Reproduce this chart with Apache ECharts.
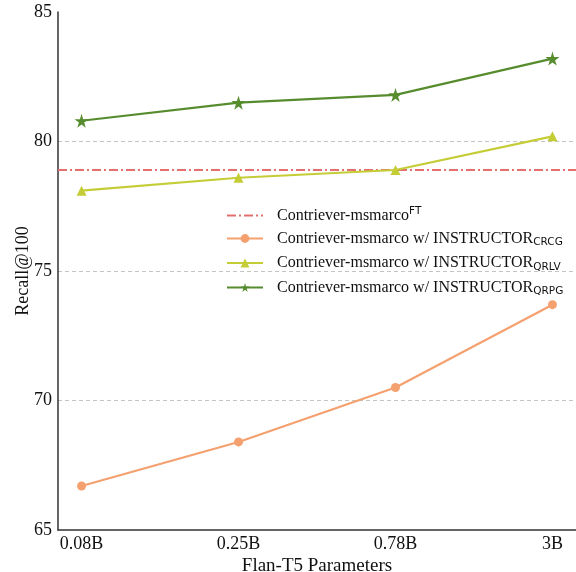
<!DOCTYPE html>
<html><head><meta charset="utf-8">
<script src="https://cdn.jsdelivr.net/npm/echarts@6/dist/echarts.min.js"></script>
<style>html,body{margin:0;padding:0;background:#fff}#c{width:576px;height:572px}</style>
</head><body><div id="c"></div>
<script>
const categories = ['0.08B', '0.25B', '0.78B', '3B'];
const ftValue = 78.9;
const crcg = [66.7, 68.4, 70.5, 73.7];
const qrlv = [78.1, 78.6, 78.9, 80.2];
const qrpg = [80.8, 81.5, 81.8, 83.2];

const xMin = -0.15, xMax = 3.15;
const serif = 'Liberation Serif';
const sans = 'DejaVu Sans';
const star = 'path://M50,0 L61,35 L98,35 L68,57 L79,91 L50,70 L21,91 L32,57 L2,35 L39,35 Z';

const toPts = arr => arr.map((v, i) => [i, v]);
const chart = echarts.init(document.getElementById('c'), null, {renderer: 'canvas'});
chart.setOption({
  animation: false,
  backgroundColor: '#fff',
  grid: {left: 58, right: 0, top: 12, bottom: 42, containLabel: false, outerBoundsMode: 'none'},
  xAxis: {
    type: 'value', min: xMin, max: xMax,
    name: 'Flan-T5 Parameters', nameLocation: 'middle', nameGap: 27, nameMoveOverlap: false,
    nameTextStyle: {fontFamily: serif, fontSize: 19, color: '#111'},
    axisLine: {show: true, onZero: false, lineStyle: {color: '#333', width: 1.5}},
    axisTick: {show: false},
    splitLine: {show: false},
    axisLabel: {customValues: [0, 1, 2, 3], formatter: v => categories[Math.round(v)],
      fontFamily: serif, fontSize: 18, color: '#111', margin: 5}
  },
  yAxis: {
    type: 'value', min: 65, max: 85, interval: 5,
    name: 'Recall@100', nameLocation: 'middle', nameGap: 26, nameMoveOverlap: false,
    nameTextStyle: {fontFamily: serif, fontSize: 18, color: '#111'},
    axisLine: {show: true, onZero: false, lineStyle: {color: '#333', width: 1.5}},
    axisTick: {show: false},
    splitLine: {show: true, showMinLine: false, showMaxLine: false, lineStyle: {color: '#c4c4c4', type: [4, 3], width: 1}},
    axisLabel: {fontFamily: serif, fontSize: 18, color: '#111', margin: 6, formatter: v => String(v)}
  },
  legend: {
    left: 221, top: 201, orient: 'vertical', itemGap: 7, itemWidth: 36, itemHeight: 11,
    textStyle: {fontFamily: serif, fontSize: 16, color: '#111', padding: [0, 0, 0, 9],
      rich: {
        m: {fontFamily: serif, fontSize: 16, color: '#111', lineHeight: 19},
        sub: {fontFamily: sans, fontSize: 10.5, color: '#111', verticalAlign: 'bottom', lineHeight: 11},
        sup: {fontFamily: sans, fontSize: 10.5, color: '#111', verticalAlign: 'top', lineHeight: 10}
      }},
    data: [
      {name: 'ft', itemStyle: {color: 'rgba(0,0,0,0)', borderWidth: 0}},
      'crcg', 'qrlv', 'qrpg'
    ],
    formatter: name => ({
      ft: '{m|Contriever-msmarco}{sup|FT}',
      crcg: '{m|Contriever-msmarco w/ INSTRUCTOR}{sub|CRCG}',
      qrlv: '{m|Contriever-msmarco w/ INSTRUCTOR}{sub|QRLV}',
      qrpg: '{m|Contriever-msmarco w/ INSTRUCTOR}{sub|QRPG}'
    })[name]
  },
  series: [
    {name: 'ft', type: 'line', data: [[xMin, ftValue], [xMax, ftValue]], showSymbol: false, symbol: 'none',
      lineStyle: {color: '#e46f6e', width: 2.2, type: [9, 3, 2, 3]}, itemStyle: {color: '#e46f6e'}, z: 1},
    {name: 'crcg', type: 'line', data: toPts(crcg), symbol: 'circle', symbolSize: 9,
      lineStyle: {color: '#f4a06f', width: 2.2}, itemStyle: {color: '#f4a06f'}, z: 3},
    {name: 'qrlv', type: 'line', data: toPts(qrlv), symbol: 'triangle', symbolSize: 10,
      lineStyle: {color: '#c4cc36', width: 2.2}, itemStyle: {color: '#c4cc36'}, z: 3},
    {name: 'qrpg', type: 'line', data: toPts(qrpg), symbol: star, symbolSize: 14,
      lineStyle: {color: '#568c2e', width: 2.2}, itemStyle: {color: '#568c2e'}, z: 3}
  ]
});
</script></body></html>
